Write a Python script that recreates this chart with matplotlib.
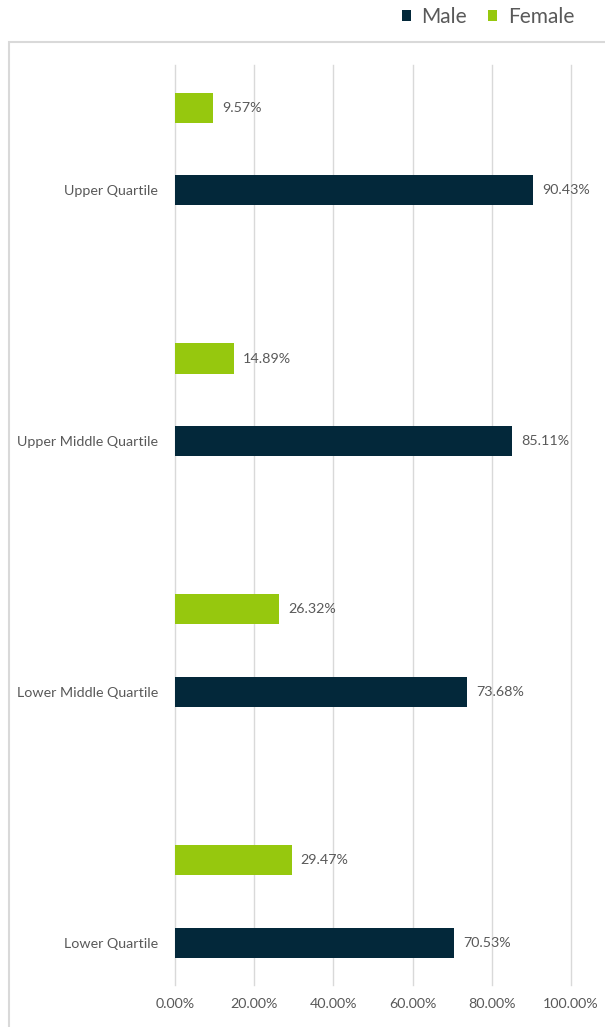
import matplotlib.pyplot as plt
import numpy as np
from matplotlib.ticker import FuncFormatter
from matplotlib.patches import Rectangle

# 数据
categories = ['Lower Quartile', 'Lower Middle Quartile', 'Upper Middle Quartile', 'Upper Quartile']
male = [70.53, 73.68, 85.11, 90.43]
female = [29.47, 26.32, 14.89, 9.57]
xticks = [0, 20, 40, 60, 80, 100]

plt.rcParams['font.family'] = ['Lato', 'DejaVu Sans']
grey = '#595959'
c_male = '#03283A'
c_female = '#96C80E'

fig = plt.figure(figsize=(6.05, 10.27), dpi=100)
ax = fig.add_axes([175 / 605, 42 / 1027, 396 / 605, 920 / 1027])

# 外框
fig.patches.append(Rectangle((9 / 605, -0.1), 1.2, 1.1 - 42 / 1027, transform=fig.transFigure,
                             fill=False, edgecolor='#D9D9D9', linewidth=1.5))

y = np.arange(len(categories))
h = 0.12
b1 = ax.barh(y, male, height=h, color=c_male, zorder=3, label='Male')
b2 = ax.barh(y + 0.33, female, height=h, color=c_female, zorder=3, label='Female')

for bars, vals, ys in [(b1, male, y), (b2, female, y + 0.33)]:
    for v, yy in zip(vals, ys):
        ax.text(v + 2.3, yy, '%.2f%%' % v, va='center', ha='left', fontsize=10.3, color=grey)

ax.set_xlim(0, 100)
ax.set_ylim(-0.167, 3.50)
ax.set_xticks(xticks)
ax.xaxis.set_major_formatter(FuncFormatter(lambda t, p: '%.2f%%' % t))
ax.set_yticks(y)
ax.set_yticklabels(categories)
ax.tick_params(axis='both', length=0, labelsize=10.3, labelcolor=grey)
ax.tick_params(axis='y', pad=12)
ax.tick_params(axis='x', pad=9)
ax.grid(axis='x', color='#D9D9D9', linewidth=1, zorder=0)
for gl in ax.get_xgridlines():
    gl.set_clip_on(False)
for s in ax.spines.values():
    s.set_visible(False)

# 图例
fig.legend(handles=[b1, b2], labels=['Male', 'Female'], loc='center', bbox_to_anchor=(488 / 605, 1 - 17 / 1027),
           ncol=2, frameon=False, fontsize=15, labelcolor=grey, handlelength=0.45, handleheight=0.45,
           handletextpad=0.5, columnspacing=1.0)

plt.savefig('out.png', dpi=100)
